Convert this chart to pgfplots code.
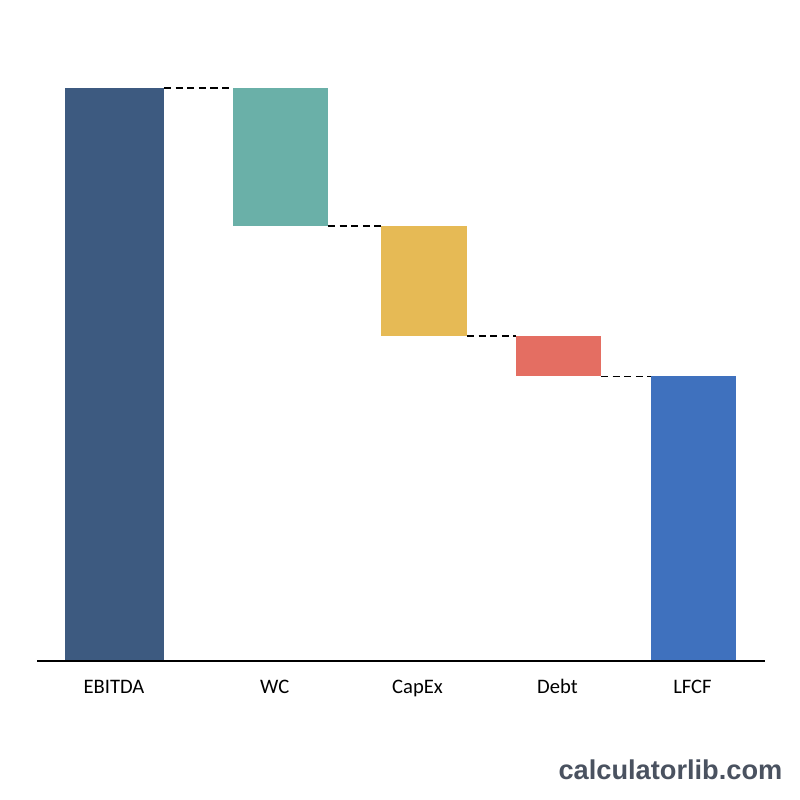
\documentclass[border=0pt]{standalone}
\usepackage{pgfplots}
\pgfplotsset{compat=1.18}
\usepackage{fontspec}
\setmainfont{Carlito}
\newfontfamily\wmfont{Liberation Sans}
\definecolor{cEB}{RGB}{61,90,128}
\definecolor{cWC}{RGB}{106,176,168}
\definecolor{cCX}{RGB}{230,186,85}
\definecolor{cDB}{RGB}{228,110,98}
\definecolor{cLF}{RGB}{63,113,190}
\definecolor{cWM}{RGB}{74,82,96}
\begin{document}
\begin{tikzpicture}
\begin{axis}[scale only axis, width=400pt, height=400pt,
  xmin=0, xmax=800, ymin=-24.258, ymax=115.358,
  axis lines=none, clip=false]
\path (rel axis cs:0,0) rectangle (rel axis cs:1,1);
% EBITDA 100, WC -24.1, CapEx -19.2, Debt -7.0, LFCF 49.7
\addplot[fill=cEB, draw=none] coordinates {(65,0) (164,0) (164,100) (65,100)} -- cycle;
\addplot[fill=cWC, draw=none] coordinates {(233,100) (328,100) (328,75.9) (233,75.9)} -- cycle;
\addplot[fill=cCX, draw=none] coordinates {(381,75.9) (467,75.9) (467,56.7) (381,56.7)} -- cycle;
\addplot[fill=cDB, draw=none] coordinates {(516,56.7) (601,56.7) (601,49.7) (516,49.7)} -- cycle;
\addplot[fill=cLF, draw=none] coordinates {(651,0) (736,0) (736,49.7) (651,49.7)} -- cycle;
% connectors
\tikzset{conn/.style={black, line width=0.65pt, dash pattern=on 3.6pt off 2.2pt}}
\addplot[conn] coordinates {(164,100) (233,100)};
\addplot[conn] coordinates {(328,75.9) (381,75.9)};
\addplot[conn] coordinates {(467,56.7) (516,56.7)};
\addplot[conn] coordinates {(601,49.7) (651,49.7)};
% baseline
\addplot[black, line width=1pt] coordinates {(37,0) (765,0)};
\tikzset{lab/.style={anchor=base, inner sep=0pt, font=\fontsize{10.3}{12}\selectfont}}
\node[lab] at (axis cs:114,-5.67) {EBITDA};
\node[lab] at (axis cs:274.7,-5.67) {WC};
\node[lab] at (axis cs:417.5,-5.67) {CapEx};
\node[lab] at (axis cs:557.5,-5.67) {Debt};
\node[lab] at (axis cs:692.5,-5.67) {LFCF};
\node[anchor=base east, inner sep=0pt, text=cWM, font=\wmfont\bfseries\fontsize{13.6}{15}\selectfont] at (axis cs:782.7,-20.65) {calculatorlib.com};
\end{axis}
\end{tikzpicture}
\end{document}
